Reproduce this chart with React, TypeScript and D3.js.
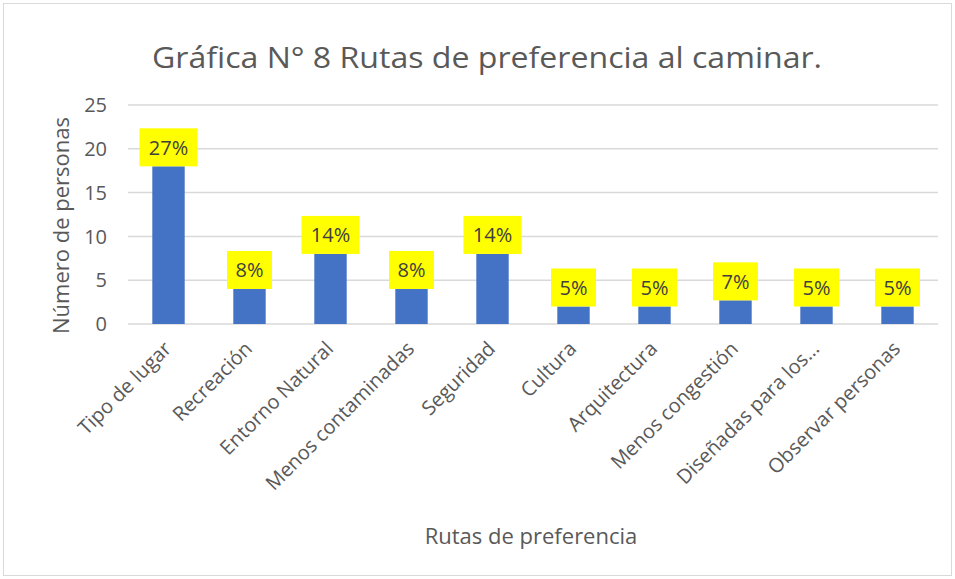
import React from "react";
import * as d3 from "d3";

const categories = [
  "Tipo de lugar",
  "Recreación",
  "Entorno Natural",
  "Menos contaminadas",
  "Seguridad",
  "Cultura",
  "Arquitectura",
  "Menos congestión",
  "Diseñadas para los…",
  "Observar personas",
];
const values = [18, 4, 8, 4, 8, 2, 2, 2.7, 2, 2];
const labels = ["27%", "8%", "14%", "8%", "14%", "5%", "5%", "7%", "5%", "5%"];
const yTicks = [0, 5, 10, 15, 20, 25];

const W = 955;
const H = 579;
const FONT = "'Open Sans', Lato, sans-serif";

export default function App() {
  const left = 128;
  const right = 938;
  const top = 105;
  const bottom = 324;
  const x = d3.scaleBand<string>().domain(categories).range([left, right]).paddingInner(0.6).paddingOuter(0.3);
  const y = d3.scaleLinear().domain([0, 25]).range([bottom, top]);

  return (
    <svg width={W} height={H} style={{ position: "fixed", left: 0, top: 0 }} fontFamily={FONT}>
      <rect x={0} y={0} width={W} height={H} fill="#fff" />
      <rect x={3.5} y={3.5} width={W - 7} height={H - 7} fill="none" stroke="#d9d9d9" />
      <text x={487} y={68} textAnchor="middle" fontSize={30} fill="#595959" textLength={670} lengthAdjust="spacingAndGlyphs">
        Gráfica N° 8 Rutas de preferencia al caminar.
      </text>
      {yTicks.map((t) => (
        <g key={t}>
          <line x1={left} x2={right} y1={y(t)} y2={y(t)} stroke="#d9d9d9" strokeWidth={1.5} />
          <text x={107} y={y(t)} dy="0.36em" textAnchor="end" fontSize={20} fill="#595959">
            {t}
          </text>
        </g>
      ))}
      <text
        transform={`translate(69,${(top + bottom) / 2 + 11}) rotate(-90)`}
        textAnchor="middle"
        fontSize={22}
        fill="#595959"
      >
        Número de personas
      </text>
      {categories.map((c, i) => {
        const cx = (x(c) as number) + x.bandwidth() / 2;
        const yv = y(values[i]);
        const bw = labels[i].length === 3 ? 58 : 45;
        return (
          <g key={c}>
            <rect x={x(c)} y={yv} width={x.bandwidth()} height={bottom - yv} fill="#4472C4" />
            <rect x={cx - bw / 2} y={yv - 38} width={bw} height={38} fill="#FFFF00" />
            <text x={cx} y={yv - 19} dy="0.36em" textAnchor="middle" fontSize={20} fill="#404040">
              {labels[i]}
            </text>
            <text
              transform={`translate(${cx + 4},${bottom + 26}) rotate(-45)`}
              textAnchor="end"
              fontSize={20}
              fill="#595959"
            >
              {c}
            </text>
          </g>
        );
      })}
      <text x={531} y={544} textAnchor="middle" fontSize={22} fill="#595959">
        Rutas de preferencia
      </text>
    </svg>
  );
}
